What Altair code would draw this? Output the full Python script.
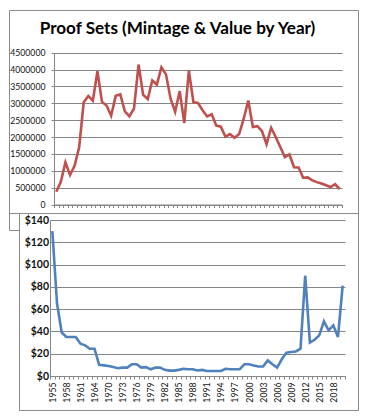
import altair as alt
import pandas as pd

# ---------------- data ----------------
years = list(range(1955, 1965)) + list(range(1968, 2021))

mintage = [
    378200, 669384, 1247952, 875652, 1149291, 1691602, 3028244, 3218019, 3075645, 3950762,
    3041506, 2934631, 2632810, 3220733, 3260996, 2760339, 2612568, 2845450, 4149730, 3251152,
    3127781, 3677175, 3554806, 4063083, 3857479, 3138765, 2748430, 3362821, 2411180, 3972233,
    3031287, 3009107, 2793433, 2610833, 2675618, 2337819, 2308701, 2010384, 2085191, 1975000,
    2086507, 2543401, 3082572, 2294909, 2319766, 2172684, 1789488, 2275000, 2000428, 1702116,
    1405674, 1482502, 1103815, 1098835, 794002, 802460, 714661, 662854, 621724, 568678,
    517053, 600000, 460000,
]

value = [
    130, 65, 39, 35, 35, 35, 29, 27.5, 24.5, 24.5,
    10, 9.5, 9, 8, 7, 7.5, 7.5, 10.5, 10.5, 7.5,
    8, 6, 7.5, 7.5, 5.5, 4.8, 4.8, 5.5, 6.5, 6,
    6, 5, 5.5, 4.5, 4.5, 4.5, 4.5, 6.5, 6, 6,
    6, 10.5, 10.5, 9.5, 8.5, 8.5, 14, 10.5, 7.5, 15,
    21, 21.5, 22, 24.5, 90, 30, 32.5, 36.5, 49, 41,
    45.5, 35, 81,
]

mintage_ticks = [0, 500000, 1000000, 1500000, 2000000, 2500000, 3000000, 3500000, 4000000, 4500000]
value_ticks = [0, 20, 40, 60, 80, 100, 120, 140]
title_text = "Proof Sets (Mintage & Value by Year)"

df = pd.DataFrame({"year": years, "mintage": mintage, "value": value})

FONT = "Lato"
GRID = "#868686"
BOX = "#8a8a8a"
TXT = "#111111"

label_expr = ("((datum.value <= 1964 ? datum.value - 1955 : datum.value - 1958) % 3 == 0)"
              " ? datum.label : ''")

# ---------------- top panel: mintage ----------------
top = alt.Chart(df).mark_line(color="#C0504D", strokeWidth=2.6).encode(
    x=alt.X("year:O",
            scale=alt.Scale(type="band", range=[45, 333], paddingInner=0, paddingOuter=0),
            axis=alt.Axis(title=None, labels=False, grid=False, tickBand="extent",
                          offset=-8.5, tickSize=3, domainColor=GRID, tickColor=GRID)),
    y=alt.Y("mintage:Q",
            scale=alt.Scale(domain=[0, 4500000], range=[194.5, 42.7], nice=False, zero=True),
            axis=alt.Axis(title=title_text, titleAngle=0, titleX=123, titleY=18.5,
                          titleAlign="center", titleBaseline="middle", titleFont=FONT,
                          titleFontSize=17.1, titleFontWeight="bold", titleColor="#000000",
                          titleLimit=500,
                          values=mintage_ticks, format="d", offset=-45,
                          tickSize=3, labelPadding=6, grid=True, gridColor=GRID,
                          domainColor=GRID, tickColor=GRID, labelFont=FONT,
                          labelFontSize=8.7, labelColor=TXT)),
).properties(
    width=349, height=203,
    view=alt.ViewBackground(stroke=BOX, strokeWidth=1, fill="white"),
)

# ---------------- bottom panel: value ----------------
bottom = alt.Chart(df).mark_line(color="#4F81BD", strokeWidth=2.6).encode(
    x=alt.X("year:O",
            scale=alt.Scale(type="band", range=[31, 326], paddingInner=0, paddingOuter=0),
            axis=alt.Axis(title=None, labelExpr=label_expr, labelAngle=270, tickBand="extent",
                          offset=-34, tickSize=3, labelPadding=3, grid=False,
                          domainColor=GRID, tickColor=GRID, labelFont=FONT,
                          labelFontSize=8.7, labelColor=TXT)),
    y=alt.Y("value:Q",
            scale=alt.Scale(domain=[0, 140], range=[163, 7], nice=False),
            axis=alt.Axis(title=None, values=value_ticks, format="$.0f", offset=-31,
                          ticks=False, labelPadding=1.5, grid=True, gridColor=GRID,
                          domainColor=GRID, labelFont=FONT, labelFontSize=10.5,
                          labelFontWeight="bold", labelColor=TXT)),
).properties(
    width=339, height=197,
    view=alt.ViewBackground(stroke=BOX, strokeWidth=1, fill="white"),
)

# corner of the first chart's frame that peeks out below it
corner = alt.Chart(df).mark_text(text="").encode(
    x=alt.value(0), y=alt.value(0)
).properties(width=10, height=17,
             view=alt.ViewBackground(stroke=BOX, strokeWidth=1, fill="white"))

bottom_row = alt.hconcat(corner, bottom, spacing=0, bounds="flush")

chart = alt.vconcat(top, bottom_row, spacing=0, bounds="flush").properties(
    padding={"left": 0, "top": 1, "right": 4, "bottom": 2},
    background="white",
)

chart.save("out.html", embed_options={"renderer": "svg", "actions": False})
